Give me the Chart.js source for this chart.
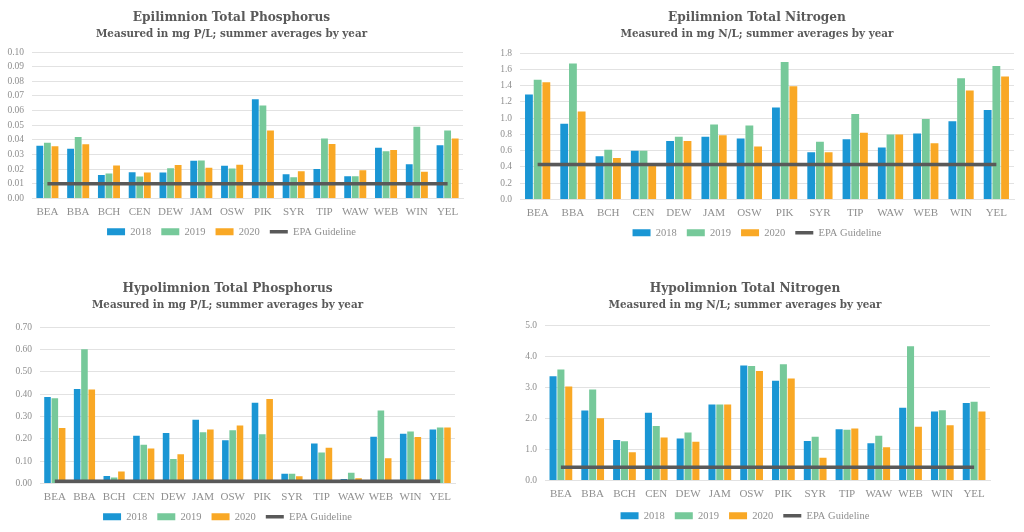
<!DOCTYPE html>
<html>
<head>
<meta charset="utf-8">
<script src="https://cdn.jsdelivr.net/npm/chart.js@4.4.1/dist/chart.umd.min.js"></script>
<style>
  html, body { margin: 0; padding: 0; background: #fff; }
  body { width: 1024px; height: 532px; position: relative; overflow: hidden; }
  .panel { position: absolute; }
</style>
</head>
<body>
<div class="panel" style="left:0;top:0;width:474px;height:250px"><canvas id="c1"></canvas></div>
<div class="panel" style="left:500px;top:0;width:518px;height:250px"><canvas id="c2"></canvas></div>
<div class="panel" style="left:0;top:271px;width:474px;height:261px"><canvas id="c3"></canvas></div>
<div class="panel" style="left:500px;top:271px;width:518px;height:261px"><canvas id="c4"></canvas></div>
<script>
// lake codes
const lakes = ['BEA', 'BBA', 'BCH', 'CEN', 'DEW', 'JAM', 'OSW', 'PIK', 'SYR', 'TIP', 'WAW', 'WEB', 'WIN', 'YEL'];
const years = ['2018', '2019', '2020'];

// Epilimnion total phosphorus, mg P/L
const epiTP2018 = [0.036, 0.034, 0.016, 0.018, 0.0177, 0.0257, 0.0223, 0.0678, 0.0166, 0.0202, 0.0152, 0.0347, 0.0234, 0.0363];
const epiTP2019 = [0.038, 0.042, 0.017, 0.015, 0.0207, 0.026, 0.0205, 0.0634, 0.0145, 0.041, 0.0152, 0.0322, 0.049, 0.0464];
const epiTP2020 = [0.0356, 0.037, 0.0225, 0.0177, 0.0228, 0.021, 0.023, 0.0464, 0.0186, 0.0372, 0.0193, 0.0331, 0.0182, 0.041];
const epaTP = [0.01, 0.01, 0.01, 0.01, 0.01, 0.01, 0.01, 0.01, 0.01, 0.01, 0.01, 0.01, 0.01, 0.01];

// Epilimnion total nitrogen, mg N/L
const epiTN2018 = [1.29, 0.93, 0.53, 0.60, 0.72, 0.77, 0.75, 1.13, 0.58, 0.74, 0.64, 0.81, 0.96, 1.10];
const epiTN2019 = [1.47, 1.67, 0.61, 0.60, 0.77, 0.92, 0.91, 1.69, 0.71, 1.05, 0.80, 0.99, 1.49, 1.64];
const epiTN2020 = [1.44, 1.08, 0.51, 0.45, 0.72, 0.79, 0.65, 1.39, 0.58, 0.82, 0.80, 0.69, 1.34, 1.51];
const epaTN = [0.43, 0.43, 0.43, 0.43, 0.43, 0.43, 0.43, 0.43, 0.43, 0.43, 0.43, 0.43, 0.43, 0.43];

// Hypolimnion total phosphorus, mg P/L
const hypTP2018 = [0.387, 0.423, 0.033, 0.214, 0.226, 0.285, 0.193, 0.361, 0.044, 0.179, 0.020, 0.209, 0.223, 0.242];
const hypTP2019 = [0.381, 0.601, 0.027, 0.173, 0.110, 0.229, 0.238, 0.220, 0.044, 0.139, 0.048, 0.327, 0.233, 0.250];
const hypTP2020 = [0.248, 0.420, 0.054, 0.157, 0.131, 0.242, 0.259, 0.378, 0.032, 0.160, 0.024, 0.113, 0.208, 0.250];

// Hypolimnion total nitrogen, mg N/L
const hypTN2018 = [3.35, 2.25, 1.30, 2.18, 1.35, 2.44, 3.70, 3.21, 1.27, 1.65, 1.20, 2.34, 2.22, 2.49];
const hypTN2019 = [3.57, 2.93, 1.26, 1.75, 1.54, 2.44, 3.68, 3.74, 1.41, 1.63, 1.44, 4.32, 2.26, 2.53];
const hypTN2020 = [3.02, 2.00, 0.91, 1.38, 1.25, 2.44, 3.52, 3.28, 0.73, 1.67, 1.07, 1.73, 1.78, 2.22];

const COLORS = { y2018: '#1a96d4', y2019: '#76c99a', y2020: '#f9a825', epa: '#595959', grid: '#e2e2e2', text: '#8f8f8f', title: '#595959' };
const TITLE_FONT = "'DejaVu Serif Condensed', 'Liberation Serif', serif";
const TICK_FONT = "'Liberation Serif', serif";

function makeChart(canvasId, cfg) {
  const bar = (label, data, color) => ({
    type: 'bar', label, data, backgroundColor: color, borderWidth: 0, order: 1,
    categoryPercentage: 0.74, barPercentage: 0.9,
  });
  return new Chart(document.getElementById(canvasId), {
    data: {
      labels: lakes,
      datasets: [
        bar(years[0], cfg.series[0], COLORS.y2018),
        bar(years[1], cfg.series[1], COLORS.y2019),
        bar(years[2], cfg.series[2], COLORS.y2020),
        { type: 'line', label: 'EPA Guideline', data: cfg.epa, borderColor: COLORS.epa, backgroundColor: COLORS.epa,
          borderWidth: 3.5, pointRadius: 0, order: 0 },
      ],
    },
    options: {
      responsive: true,
      maintainAspectRatio: false,
      animation: false,
      layout: { padding: { left: 0, right: cfg.padRight, top: 7, bottom: cfg.padBottom } },
      scales: {
        x: {
          afterFit: s => { s.height = cfg.xHeight; },
          grid: { display: false, drawTicks: false },
          border: { display: true, color: COLORS.grid },
          ticks: { color: COLORS.text, font: { family: TICK_FONT, size: 11 }, padding: 7, maxRotation: 0, autoSkip: false },
        },
        y: {
          min: 0, max: cfg.max,
          afterFit: s => { s.width = cfg.yWidth; },
          grid: { color: COLORS.grid, drawTicks: false, lineWidth: 1 },
          border: { display: false },
          ticks: { stepSize: cfg.step, autoSkip: false, color: COLORS.text, padding: 8,
            font: { family: TICK_FONT, size: 9.5 },
            callback: v => v.toFixed(cfg.digits) },
        },
      },
      plugins: {
        title: { display: true, text: cfg.title, color: COLORS.title,
          font: { family: TITLE_FONT, size: 13.5, weight: 'bold' }, padding: { top: 2, bottom: 2 } },
        subtitle: { display: true, text: cfg.subtitle, color: COLORS.title,
          font: { family: TITLE_FONT, size: 11.5, weight: 'bold' }, padding: { top: 0, bottom: cfg.subPad } },
        tooltip: { enabled: false },
        legend: {
          position: 'bottom',
          labels: {
            usePointStyle: true, pointStyleWidth: 18, boxHeight: 7, padding: 10,
            color: COLORS.text, font: { family: TICK_FONT, size: 10.5 },
            sort: (a, b) => a.datasetIndex - b.datasetIndex,
            generateLabels: chart => {
              const items = Chart.defaults.plugins.legend.labels.generateLabels(chart);
              items.forEach(it => {
                const ds = chart.data.datasets[it.datasetIndex];
                if (ds.type === 'line') { it.pointStyle = 'line'; it.lineWidth = 3.5; it.strokeStyle = COLORS.epa; }
                else { it.pointStyle = 'rect'; it.lineWidth = 0; }
              });
              return items;
            },
          },
        },
      },
    },
  });
}

makeChart('c1', {
  title: 'Epilimnion Total Phosphorus', subtitle: 'Measured in mg P/L; summer averages by year',
  series: [epiTP2018, epiTP2019, epiTP2020], epa: epaTP, max: 0.1, step: 0.01, digits: 2,
  yWidth: 32, xHeight: 18, padRight: 11, padBottom: 3, subPad: 11,
});
makeChart('c2', {
  title: 'Epilimnion Total Nitrogen', subtitle: 'Measured in mg N/L; summer averages by year',
  series: [epiTN2018, epiTN2019, epiTN2020], epa: epaTN, max: 1.8, step: 0.2, digits: 1,
  yWidth: 20, xHeight: 18, padRight: 4, padBottom: 2, subPad: 12,
});
makeChart('c3', {
  title: 'Hypolimnion Total Phosphorus', subtitle: 'Measured in mg P/L; summer averages by year',
  series: [hypTP2018, hypTP2019, hypTP2020], epa: epaTP, max: 0.7, step: 0.1, digits: 2,
  yWidth: 40, xHeight: 18, padRight: 19, padBottom: 0, subPad: 15,
});
makeChart('c4', {
  title: 'Hypolimnion Total Nitrogen', subtitle: 'Measured in mg N/L; summer averages by year',
  series: [hypTN2018, hypTN2019, hypTN2020], epa: epaTN, max: 5.0, step: 1.0, digits: 1,
  yWidth: 45, xHeight: 20, padRight: 28, padBottom: 1, subPad: 13,
});
</script>
</body>
</html>
